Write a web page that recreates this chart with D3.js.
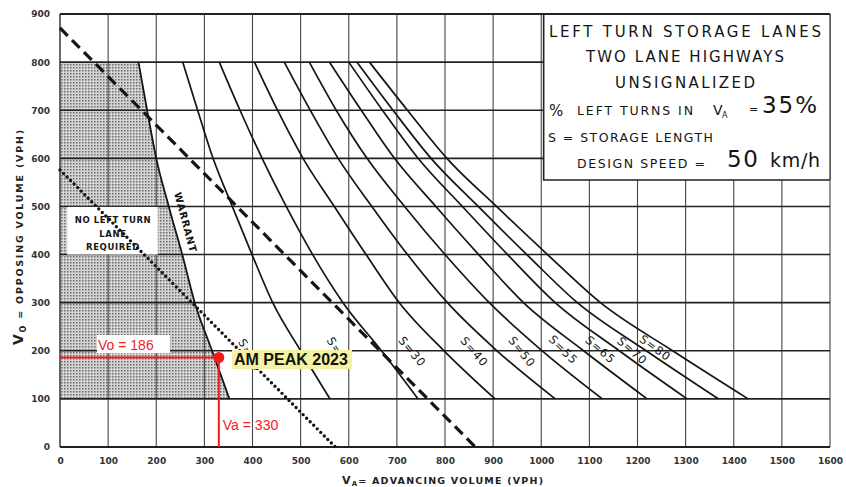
<!DOCTYPE html>
<html>
<head>
<meta charset="utf-8">
<script src="https://cdn.jsdelivr.net/npm/d3@7"></script>
<style>
body { margin: 0; background: #fff; }
svg { display: block; }
</style>
</head>
<body>
<div id="chart"></div>
<script>
var voRows = [800, 700, 600, 500, 400, 300, 200, 100];

// advancing volume (vph) of each curve at those rows
var warrantVa = [163, 181, 200, 226, 254, 280, 316, 352];
var s15 = [255, 286, 318, 358, 399, 442, 500, 561];
var s25 = [331, 374, 420, 470, 525, 588, 668, 744];
var s30 = [404, 452, 505, 570, 636, 705, 798, 904];
var s40 = [466, 520, 578, 648, 722, 805, 908, 1029];
var s50 = [518, 574, 638, 716, 800, 892, 1002, 1127];
var s55 = [560, 626, 695, 781, 870, 963, 1088, 1220];
var s65 = [600, 670, 744, 836, 930, 1029, 1162, 1303];
var s70 = [617, 692, 771, 869, 970, 1075, 1218, 1368];
var s80 = [643, 722, 804, 907, 1013, 1123, 1273, 1430];
var storageNames = ["S=15", "S=25", "S=30", "S=40", "S=50", "S=55", "S=65", "S=70", "S=80"];

// straight guide lines (end points)
var dashedVa = [0, 863];
var dashedVo = [871, 0];
var dottedVa = [0, 572];
var dottedVo = [576, 0];

// the plotted count
var peakVa = 330;
var peakVo = 186;

var xTicks = [0, 100, 200, 300, 400, 500, 600, 700, 800, 900, 1000, 1100, 1200, 1300, 1400, 1500, 1600];
var yTicks = [0, 100, 200, 300, 400, 500, 600, 700, 800, 900];

var w = 846;
var h = 487;

var svg = d3.select("#chart")
 .append("svg")
 .attr("width", w)
 .attr("height", h);

var x = d3.scaleLinear().domain([0, 1600]).range([60, 830]);
var y = d3.scaleLinear().domain([0, 900]).range([447, 14]);

var ink = "#151515";
var font = "'DejaVu Sans', sans-serif";

// stipple for the "no lane" zone
var defs = svg.append("defs");
var pat = defs.append("pattern")
 .attr("id", "stipple")
 .attr("width", 3).attr("height", 3)
 .attr("patternUnits", "userSpaceOnUse");
pat.append("rect").attr("width", 3).attr("height", 3).attr("fill", "#d4d4d4");
pat.append("rect").attr("x", 1).attr("y", 1).attr("width", 1.5).attr("height", 1.5).attr("fill", "#6a6a6a");

var pairs = function(vaList) {
 return vaList.map(function(va, i) { return [va, voRows[i]]; });
};

// shaded zone left of the warrant line
var zone = [[0, voRows[0]]].concat(pairs(warrantVa)).concat([[0, voRows[voRows.length - 1]]]);
svg.append("path")
 .attr("d", d3.line().x(function(d) { return x(d[0]); }).y(function(d) { return y(d[1]); })(zone) + "Z")
 .attr("fill", "url(#stipple)");

// grid
svg.append("g")
 .selectAll("line")
 .data(xTicks)
 .join("line")
 .attr("x1", function(d) { return x(d); })
 .attr("x2", function(d) { return x(d); })
 .attr("y1", y(0))
 .attr("y2", y(900))
 .attr("stroke", "#444")
 .attr("stroke-width", function(d) { return d === 0 ? 1.6 : 1.1; });

svg.append("g")
 .selectAll("line")
 .data(yTicks)
 .join("line")
 .attr("x1", x(0))
 .attr("x2", x(1600))
 .attr("y1", function(d) { return y(d); })
 .attr("y2", function(d) { return y(d); })
 .attr("stroke", "#222")
 .attr("stroke-width", function(d) { return d === 0 || d === 900 ? 2.2 : 1.6; });

// axes text
var xAxis = svg.append("g")
 .attr("transform", "translate(0," + y(0) + ")")
 .call(d3.axisBottom(x).tickValues(xTicks).tickSize(0).tickPadding(11).tickFormat(d3.format("d")));
var yAxis = svg.append("g")
 .attr("transform", "translate(" + x(0) + ",0)")
 .call(d3.axisLeft(y).tickValues(yTicks).tickSize(0).tickPadding(10).tickFormat(d3.format("d")));
[xAxis, yAxis].forEach(function(g) {
 g.select(".domain").remove();
 g.selectAll("text")
 .attr("font-family", font)
 .attr("font-size", "9px")
 .attr("font-weight", "bold")
 .attr("fill", "#333");
});

// axis titles
var xt = svg.append("text")
 .attr("x", 342).attr("y", 484)
 .attr("font-family", font).attr("font-size", "9.5px").attr("font-weight", "bold")
 .attr("fill", "#222")
 .attr("textLength", 201).attr("lengthAdjust", "spacing");
xt.append("tspan").attr("font-size", "11px").text("V");
xt.append("tspan").attr("font-size", "7px").attr("dy", 2).text("A");
xt.append("tspan").attr("dy", -2).text("= ADVANCING  VOLUME  (VPH)");

var yt = svg.append("text")
 .attr("transform", "translate(23,345) rotate(-90)")
 .attr("font-family", font).attr("font-size", "9.5px").attr("font-weight", "bold")
 .attr("fill", "#222")
 .attr("textLength", 215).attr("lengthAdjust", "spacing");
yt.append("tspan").attr("font-size", "14px").text("V");
yt.append("tspan").attr("font-size", "8px").attr("dy", 3).text("O");
yt.append("tspan").attr("dy", -3).text(" = OPPOSING  VOLUME  (VPH)");

// "no left turn lane required" panel
svg.append("rect")
 .attr("x", x(15)).attr("y", y(499))
 .attr("width", x(203) - x(15)).attr("height", y(400) - y(499))
 .attr("fill", "#fff");
["NO LEFT TURN", "LANE", "REQUIRED"].forEach(function(t, i) {
 svg.append("text")
 .attr("x", 113).attr("y", 223 + i * 13.5)
 .attr("text-anchor", "middle")
 .attr("font-family", font).attr("font-size", "8.5px").attr("font-weight", "bold")
 .attr("letter-spacing", "0.6px")
 .attr("fill", ink)
 .text(t);
});

// legend panel, top right
var bx0 = x(1005), bx1 = x(1600), by0 = y(900), by1 = y(555);
svg.append("rect")
 .attr("x", bx0).attr("y", by0)
 .attr("width", bx1 - bx0).attr("height", by1 - by0)
 .attr("fill", "#fff");
svg.append("path")
 .attr("d", "M" + bx0 + "," + by0 + "V" + by1 + "H" + bx1)
 .attr("fill", "none").attr("stroke", "#222").attr("stroke-width", 1.6);
svg.append("line")
 .attr("x1", bx1).attr("x2", bx1).attr("y1", by0).attr("y2", by1)
 .attr("stroke", "#333").attr("stroke-width", 1.2);
svg.append("line")
 .attr("x1", bx0).attr("x2", bx1).attr("y1", by0).attr("y2", by0)
 .attr("stroke", "#222").attr("stroke-width", 2.2);

var bcx = 685;
var boxText = function(t, tx, ty, size, len, anchor) {
 var el = svg.append("text")
 .attr("x", tx).attr("y", ty)
 .attr("text-anchor", anchor || "start")
 .attr("font-family", font).attr("font-size", size + "px")
 .attr("fill", ink)
 .text(t);
 if (len) el.attr("textLength", len).attr("lengthAdjust", "spacing");
 return el;
};
boxText("LEFT TURN STORAGE LANES", bcx, 37, 15, 272, "middle");
boxText("TWO LANE HIGHWAYS", bcx, 62, 15, 198, "middle");
boxText("UNSIGNALIZED", bcx, 88, 15, 140, "middle");
boxText("%", 549, 116, 15);
boxText("LEFT TURNS IN", 577, 115, 12.5, 116);
boxText("V", 713, 115, 14);
boxText("A", 722, 118, 8);
boxText("=", 749, 113, 11);
boxText("35%", 762, 113, 23, 55);
boxText("S = STORAGE LENGTH", 548, 142, 12.5, 165);
boxText("DESIGN SPEED =", 577, 168, 12.5, 128);
boxText("50", 727, 167, 23, 31);
boxText("km/h", 770, 167, 19, 50);

// storage curves
var curveLine = d3.line()
 .x(function(d) { return x(d[0]); })
 .y(function(d) { return y(d[1]); })
 .curve(d3.curveMonotoneX);

var storage = [s15, s25, s30, s40, s50, s55, s65, s70, s80];
svg.append("g")
 .selectAll("path")
 .data(storage)
 .join("path")
 .attr("d", function(d) { return curveLine(pairs(d)); })
 .attr("fill", "none")
 .attr("stroke", ink)
 .attr("stroke-width", 1.7);

svg.append("path")
 .attr("d", curveLine(pairs(warrantVa)))
 .attr("fill", "none")
 .attr("stroke", ink)
 .attr("stroke-width", 1.8);

svg.append("path")
 .attr("d", d3.line()(dashedVa.map(function(d, i) { return [x(d), y(dashedVo[i])]; })))
 .attr("stroke", ink)
 .attr("stroke-width", 3.2)
 .attr("stroke-dasharray", "11,6");

svg.append("path")
 .attr("d", d3.line()(dottedVa.map(function(d, i) { return [x(d), y(dottedVo[i])]; })))
 .attr("stroke", ink)
 .attr("stroke-width", 3.4)
 .attr("stroke-linecap", "round")
 .attr("stroke-dasharray", "0,5");

// curve labels (anchor va, vo, angle)
var labelSpots = [[395, 191, 60], [580, 195, 58], [732, 198, 50], [861, 198, 49], [960, 198, 51],
 [1046, 202, 45], [1123, 202, 41], [1189, 200, 41], [1237, 206, 36]];
svg.append("g")
 .selectAll("text")
 .data(storageNames)
 .join("text")
 .attr("transform", function(d, i) {
 var s = labelSpots[i];
 return "translate(" + x(s[0]) + "," + y(s[1]) + ") rotate(" + s[2] + ")";
 })
 .attr("text-anchor", "middle")
 .attr("dy", "0.35em")
 .attr("font-family", font)
 .attr("font-size", "11.5px")
 .attr("letter-spacing", "1px")
 .attr("fill", ink)
 .text(function(d) { return d; });

var wx = (x(warrantVa[3]) + x(warrantVa[4])) / 2 + 10;
var wy = (y(voRows[3]) + y(voRows[4])) / 2 - 8;
svg.append("text")
 .attr("transform", "translate(" + wx + "," + wy + ") rotate(75)")
 .attr("text-anchor", "middle")
 .attr("dy", "0.35em")
 .attr("font-family", font)
 .attr("font-size", "10px")
 .attr("font-weight", "bold")
 .attr("letter-spacing", "0.8px")
 .attr("fill", ink)
 .text("WARRANT");

// AM peak 2023 annotation
var red = "#f01c1c";
var arial = "'Liberation Sans', Arial, sans-serif";
svg.append("line")
 .attr("x1", x(0)).attr("x2", x(peakVa))
 .attr("y1", y(peakVo)).attr("y2", y(peakVo))
 .attr("stroke", red).attr("stroke-width", 2);
svg.append("line")
 .attr("x1", x(peakVa)).attr("x2", x(peakVa))
 .attr("y1", y(peakVo)).attr("y2", y(0))
 .attr("stroke", red).attr("stroke-width", 2);
svg.append("circle")
 .attr("cx", x(peakVa)).attr("cy", y(peakVo))
 .attr("r", 5.5)
 .attr("fill", red);

svg.append("rect")
 .attr("x", 97).attr("y", 335).attr("width", 73).attr("height", 18)
 .attr("fill", "#fff");
svg.append("text")
 .attr("x", 98).attr("y", 350)
 .attr("font-family", arial).attr("font-size", "14px")
 .attr("fill", red)
 .text("Vo = " + peakVo);
svg.append("text")
 .attr("x", x(peakVa) + 4).attr("y", 430)
 .attr("font-family", arial).attr("font-size", "14px")
 .attr("fill", red)
 .text("Va = " + peakVa);

svg.append("rect")
 .attr("x", 232).attr("y", 350).attr("width", 120).attr("height", 19)
 .attr("fill", "#f4f1a4");
svg.append("text")
 .attr("x", 234).attr("y", 365)
 .attr("font-family", arial).attr("font-size", "16px").attr("font-weight", "bold")
 .attr("fill", "#111")
 .text("AM PEAK 2023");
</script>
</body>
</html>
